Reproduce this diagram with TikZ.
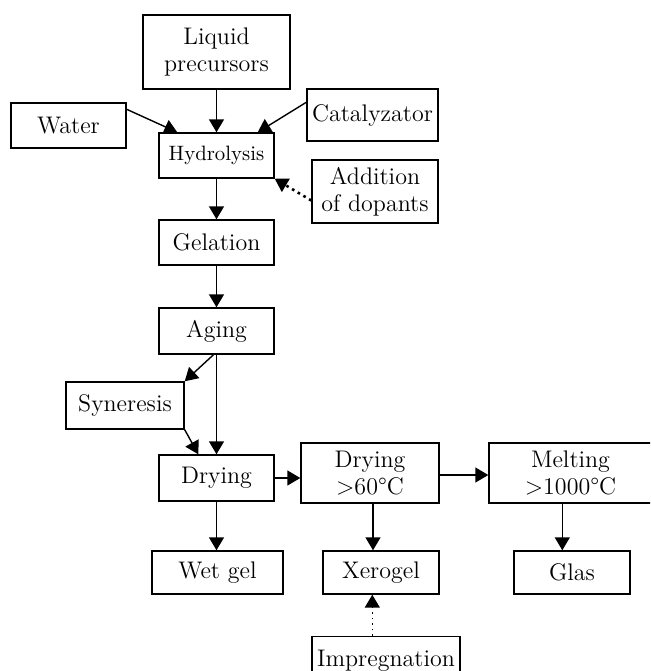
\documentclass[tikz,border=0pt]{standalone}
\usetikzlibrary{arrows.meta,calc}
\begin{document}
\begin{tikzpicture}[x=0.5pt,y=-0.5pt,
  box/.style={draw,line width=0.7pt,inner sep=0pt,align=center,font=\fontsize{12}{13.5}\selectfont},
  arr/.style={line width=0.7pt,-{Triangle[length=6.5pt,width=7.5pt]}},
  dotarr/.style={line width=1.3pt,dotted,-{Triangle[length=6.5pt,width=7.5pt]}},
  thindotarr/.style={line width=0.8pt,dotted,-{Triangle[length=6.5pt,width=7.5pt]}}]
\useasboundingbox (0,0) rectangle (650,671);
\clip (0,0) rectangle (650,671);
\node[box,minimum width=73.5pt,minimum height=37pt] (liq) at (216.5,52) {Liquid\\precursors};
\node[box,minimum width=57.5pt,minimum height=22.5pt] (water) at (68.5,125.5) {Water};
\node[box,minimum width=65.5pt,minimum height=26pt] (cat) at (372.5,115) {Catalyzator};
\node[box,minimum width=57.5pt,minimum height=22.5pt,font=\fontsize{10.4}{12}\selectfont] (hyd) at (216.5,155.5) {Hydrolysis};
\node[box,minimum width=63pt,minimum height=31.5pt] (add) at (375,191.5) {Addition\\of dopants};
\node[box,minimum width=57.5pt,minimum height=22.5pt] (gel) at (216.5,242.5) {Gelation};
\node[box,minimum width=57.5pt,minimum height=23pt] (aging) at (216.5,331) {Aging};
\node[box,minimum width=59pt,minimum height=23.5pt] (syn) at (125,405.5) {Syneresis};
\node[box,minimum width=57.5pt,minimum height=23pt] (dry) at (216.5,478) {Drying};
\node[box,minimum width=69pt,minimum height=30pt] (dry60) at (370,473) {Drying\\$>$60°C};
\node[box,minimum width=81.5pt,minimum height=30pt] (melt) at (570.5,473) {Melting\\$>$1000°C};
\node[box,minimum width=65.5pt,minimum height=21.5pt] (wet) at (217.5,572.5) {Wet gel};
\node[box,minimum width=58pt,minimum height=21.5pt] (xero) at (381,572.5) {Xerogel};
\node[box,minimum width=58pt,minimum height=21.5pt] (glas) at (572,572.5) {Glas};
\node[box,minimum width=74pt,inner ysep=6.8pt,anchor=north,text depth=10pt] (imp) at (386,636) {Impregnation};
\draw[arr] (liq) -- (hyd);
\draw[arr] ($(water.north east)+(0,7)$) -- ($(hyd.north west)+(19,0)$);
\draw[arr] ($(cat.north west)+(0,14)$) -- ($(hyd.north east)+(-17,0)$);
\draw[dotarr] ($(add.west)+(0,9)$) -- (hyd.south east);
\draw[arr] (hyd) -- (gel);
\draw[arr] (gel) -- (aging);
\draw[arr] ($(aging.south)+(-3,0)$) -- (syn.north east);
\draw[arr] (aging) -- (dry);
\draw[arr] (syn.south east) -- ($(dry.north west)+(40,0)$);
\draw[arr] (dry.east) -- (dry.east -| dry60.west);
\draw[arr] ($(dry60.east)+(0,2)$) -- ($(melt.west)+(0,2)$);
\draw[arr] (dry.south) -- (dry.south |- wet.north);
\draw[arr] ($(dry60.south)+(3,0)$) coordinate (d6s) -- (d6s |- xero.north);
\draw[arr] ($(melt.south west)+(74,0)$) coordinate (ms) -- (ms |- glas.north);
\draw[thindotarr] ($(imp.north west)+(61,0)$) coordinate (is) -- (is |- xero.south);
\end{tikzpicture}
\end{document}
